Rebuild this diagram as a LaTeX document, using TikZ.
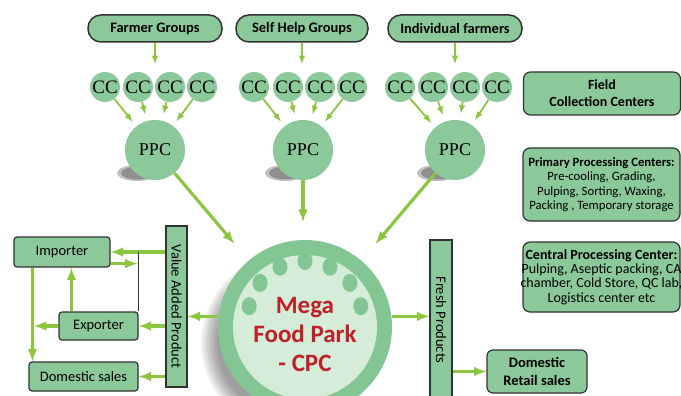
\documentclass[tikz,border=0pt]{standalone}
\usepackage{fontspec}
\setmainfont{Carlito}
\newfontfamily\ccfont{Liberation Serif}
\usepackage{graphicx}
\usetikzlibrary{
  calc
}

\definecolor{boxgreen}{RGB}{139,201,154}
\definecolor{ringgreen}{RGB}{132,197,148}
\definecolor{innergreen}{RGB}{212,236,216}
\definecolor{arrowgreen}{RGB}{140,198,63}
\definecolor{edgegray}{RGB}{50,50,50}
\definecolor{megared}{RGB}{190,32,42}

\tikzset{
  % For the farmer sources along the top.
  source/.style={
    draw=edgegray,
    line width=1.5pt,
    fill=boxgreen,
    rounded corners=13pt,
    minimum height=27pt,
    inner sep=0pt,
    font=\fontsize{14.5}{17}\selectfont\bfseries},
%
  % For plain boxes.
  box/.style={
    draw=edgegray,
    line width=1.2pt,
    fill=boxgreen,
    rounded corners=3pt,
    inner sep=0pt,
    align=center,
    font=\fontsize{14.5}{17}\selectfont},
%
  % For the upright bars with turned text.
  bar/.style={
    box,
    rounded corners=0pt},
%
  % For the notes on the right.
  note/.style={
    box,
    rounded corners=7pt,
    minimum width=157pt},
%
  % For note text that is wider than its box.
  notetext/.style={
    align=center,
    inner sep=0pt,
    font=\fontsize{14}{14.3}\selectfont},
%
  % For small collection circles.
  cc/.style={
    circle,
    fill=boxgreen,
    minimum size=30pt,
    inner sep=0pt,
    font=\ccfont\fontsize{19}{19}\selectfont},
%
  % For primary processing circles.
  ppc/.style={
    cc,
    minimum size=60pt,
    font=\ccfont\fontsize{18}{18}\selectfont},
%
  % For the soft grey shadows at the lower left of the circles.
  groundshade/.style={
    fill=black,
    opacity=.05},
%
  % For the text in the big circle.
  megatext/.style={
    align=center,
    text=megared,
    font=\fontsize{25}{29}\selectfont\bfseries},
%
  % For thin arrows into the circles.
  feed/.style={
    draw=arrowgreen,
    line width=1.8pt,
    -latex},
%
  % For thick arrows.
  flow/.style={
    draw=arrowgreen,
    line width=3.2pt,
    -latex},
%
  % For the link without an arrow.
  link/.style={
    draw=edgegray,
    line width=1.2pt}
}

\begin{document}
\begin{tikzpicture}[x=1pt, y=-1pt]
  \useasboundingbox (0,0) rectangle (681,396);
  \clip (0,0) rectangle (681,396);

  % shadows go first, so that the circles cover them
  \foreach \x in {137,285,437} {
    \fill[groundshade, opacity=.25] (\x,173) ellipse (20pt and 8pt);
    \fill[groundshade, opacity=.25] (\x+1,173) ellipse (17pt and 6.5pt);
  }
  \foreach \r in {89,87,...,73}
    \fill[groundshade] (290,343) circle (\r pt);

  \node[source, minimum width=134pt] (farmer) at (155,28.5) {Farmer Groups};
  \node[source, minimum width=132pt] (selfhelp) at (302,28.5) {Self Help Groups};
  \node[source, minimum width=134pt] (individual) at (455,28.5) {Individual farmers};

  \node[cc] (cc a1) at (105,87) {CC};
  \node[cc] (cc a2) at (138,87) {CC};
  \node[cc] (cc a3) at (170,87) {CC};
  \node[cc] (cc a4) at (202,87) {CC};
  \node[cc] (cc b1) at (254,87) {CC};
  \node[cc] (cc b2) at (288,87) {CC};
  \node[cc] (cc b3) at (320,87) {CC};
  \node[cc] (cc b4) at (352,87) {CC};
  \node[cc] (cc c1) at (400,87) {CC};
  \node[cc] (cc c2) at (433,87) {CC};
  \node[cc] (cc c3) at (465,87) {CC};
  \node[cc] (cc c4) at (497,87) {CC};

  \node[ppc] (ppc a) at (155,150) {PPC};
  \node[ppc] (ppc b) at (303,150) {PPC};
  \node[ppc] (ppc c) at (455,150) {PPC};

  \draw[feed] (farmer.south) -- +(0,21);
  \draw[feed] (selfhelp.south) -- +(0,21);
  \draw[feed] (individual.south) -- +(0,21);

  \draw[feed, shorten >=6pt] (cc a1) -- (ppc a);
  \draw[feed, shorten >=7pt] (cc a2) -- (ppc a);
  \draw[feed, shorten >=7pt] (cc a3) -- (ppc a);
  \draw[feed, shorten >=6pt] (cc a4) -- (ppc a);
  \draw[feed, shorten >=6pt] (cc b1) -- (ppc b);
  \draw[feed, shorten >=7pt] (cc b2) -- (ppc b);
  \draw[feed, shorten >=7pt] (cc b3) -- (ppc b);
  \draw[feed, shorten >=6pt] (cc b4) -- (ppc b);
  \draw[feed, shorten >=6pt] (cc c1) -- (ppc c);
  \draw[feed, shorten >=7pt] (cc c2) -- (ppc c);
  \draw[feed, shorten >=7pt] (cc c3) -- (ppc c);
  \draw[feed, shorten >=6pt] (cc c4) -- (ppc c);

  \node[circle, fill=ringgreen, minimum size=174pt] (mega) at (305,327) {};
  \fill[innergreen] (mega.center) circle (72pt);
  \coordinate (dots) at ($(mega.center)+(0,-9)$);
  \foreach \a in {12,38,...,168}
    \fill[ringgreen] ($(dots)+(\a:57pt)$) ellipse (7.5pt and 9pt);
  \node[megatext] (mega label) at ($(mega.center)+(0,7)$) {Mega\\Food Park\\- CPC};

  \draw[flow, shorten >=22pt] (ppc a) -- (mega);
  \draw[flow, shorten >=18pt] (ppc b) -- (ppc b |- mega.north);
  \draw[flow, shorten >=22pt] (ppc c) -- (mega);

  \node[bar, minimum width=21pt, minimum height=161pt] (vap) at (176.5,306.5)
       {\rotatebox{-90}{Value Added Product}};
  \node[bar, minimum width=22pt, minimum height=160pt] (fresh) at (441,320)
       {\rotatebox{-90}{Fresh Products}};

  \node[box, minimum width=96pt, minimum height=30pt] (importer) at (62,252) {Importer};
  \node[box, minimum width=79pt, minimum height=28pt] (exporter) at (98.5,326) {Exporter};
  \node[box, minimum width=109pt, minimum height=29pt] (domestic) at (83.5,376.5) {Domestic sales};
  \node[box, rounded corners=6pt, minimum width=100pt, minimum height=43pt,
        font=\fontsize{14.5}{18}\selectfont\bfseries] (retail) at (537,371.5)
       {Domestic\\Retail sales};

  \node[note, minimum height=43pt,
        font=\fontsize{14}{17}\selectfont\bfseries] (field) at (602,93.5)
       {Field\\Collection Centers};
  \node[note, minimum height=73pt,
        font=\fontsize{12.7}{14.3}\selectfont] (primary) at (601.5,184.5)
       {\textbf{Primary Processing Centers:}\\Pre-cooling, Grading,\\
        Pulping, Sorting, Waxing,\\Packing , Temporary storage};
  \node[note, minimum height=70pt] (central) at (601.5,277) {};
  \node[notetext] (central text) at (central.center)
       {\textbf{Central Processing Center:}\\Pulping, Aseptic packing, CA\\
        chamber, Cold Store, QC lab,\\Logistics center etc};

  \coordinate (drop) at ($(importer.south west)+(19,0)$);
  \coordinate (rise) at ($(exporter.north west)+(13,0)$);
  \draw[flow] (vap.west |- importer.east) -- (importer.east);
  \draw[link] (exporter.north east) -- (exporter.north east |- importer.east);
  \draw[flow] ($(importer.south east)+(0,-4)$)
                -- ($(exporter.north east |- importer.south)+(-1,-4)$);
  \draw[flow] (rise) -- (rise |- importer.south);
  \draw[flow] (drop) -- (drop |- domestic.north);
  \draw[flow, shorten >=1.5pt] (exporter.west) -- (exporter.west -| drop);
  \draw[flow] (vap.west |- exporter.east) -- (exporter.east);
  \draw[flow] (vap.west |- domestic.east) -- (domestic.east);
  \draw[flow] (mega.173) -- (mega.173 -| vap.east);
  \draw[flow] (mega.7) -- (mega.7 -| fresh.west);
  \draw[flow] (fresh.east |- retail.west) -- (retail.west);
\end{tikzpicture}
\end{document}
